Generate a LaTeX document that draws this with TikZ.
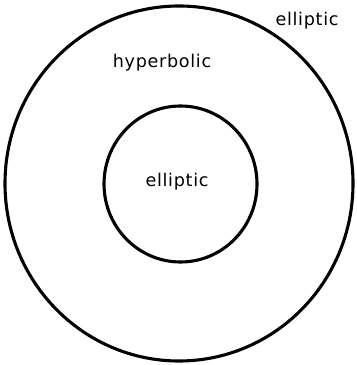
\documentclass[tikz,border=0pt]{standalone}
\usepackage{fontspec}
\newfontfamily\regionfont[LetterSpace=4]{DejaVu Sans}
\usepackage{tikz}

\begin{document}
\begin{tikzpicture}[x=0.025cm,y=-0.025cm,
    region/.style={font=\regionfont\fontsize{12.5}{14}\selectfont,inner sep=0pt},
    boundary/.style={draw,line width=2.2pt}]
  \useasboundingbox (0,0) rectangle (356,365);
  \draw[boundary] (179,183.5) ellipse [x radius=174, y radius=177.5];
  \draw[boundary] (180.5,184) ellipse [x radius=76.5, y radius=78];
  \node[region] (outer) at (307,21) {elliptic};
  \node[region] (ring) at (162,63) {hyperbolic};
  \node[region] (inner) at (177,182) {elliptic};
\end{tikzpicture}
\end{document}
